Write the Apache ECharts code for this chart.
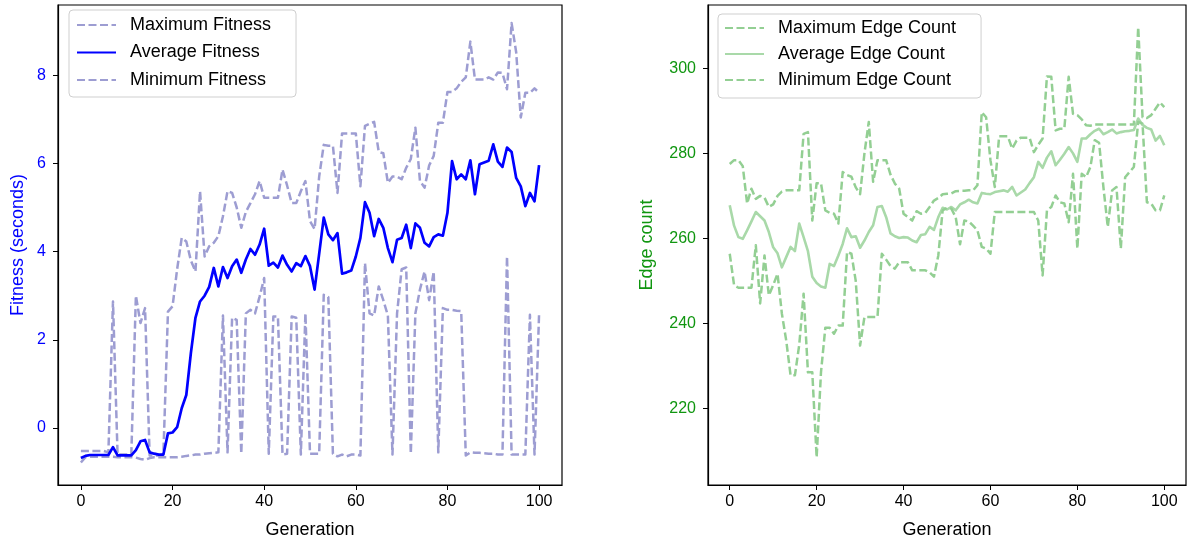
<!DOCTYPE html>
<html>
<head>
<meta charset="utf-8">
<script src="https://cdn.jsdelivr.net/npm/echarts@6/dist/echarts.min.js"></script>
<style>
html,body{margin:0;padding:0;background:#fff;}
#chart{width:1188px;height:546px;}
</style>
</head>
<body>
<div id="chart"></div>
<script>
// ---- data (one value per generation 0..100) ----
const maxFitness = [-0.52,-0.52,-0.52,-0.52,-0.52,-0.52,-0.55,2.87,-0.6,-0.6,
  -0.6,-0.6,3.0,2.38,2.72,-0.62,-0.62,-0.62,-0.6,2.64,
  2.76,3.6,4.31,4.23,3.8,3.55,5.37,3.89,4.12,4.2,
  4.35,4.8,5.37,5.33,5.0,4.54,4.9,5.1,5.3,5.6,
  5.22,5.22,5.22,5.22,5.86,5.5,5.1,5.1,5.37,5.6,
  4.69,4.51,5.7,6.42,6.4,6.4,5.33,6.68,6.68,6.68,
  6.68,5.48,6.85,6.9,6.94,6.26,6.23,5.56,5.7,5.7,
  5.64,5.9,6.1,6.81,5.6,5.45,5.95,6.17,6.92,6.92,
  7.62,7.62,7.7,7.85,7.95,8.76,7.9,7.9,7.9,7.95,
  7.9,8.06,8.05,7.68,9.18,8.52,7.04,7.6,7.6,7.7,
  7.6];
const avgFitness = [-0.68,-0.63,-0.61,-0.61,-0.61,-0.61,-0.61,-0.43,-0.62,-0.62,
  -0.62,-0.62,-0.5,-0.3,-0.27,-0.55,-0.58,-0.6,-0.6,-0.12,
  -0.1,0.02,0.45,0.75,1.7,2.5,2.87,3.0,3.2,3.63,
  3.21,3.65,3.4,3.67,3.82,3.52,3.82,4.06,3.93,4.16,
  4.52,3.68,3.75,3.64,3.91,3.7,3.55,3.74,3.67,3.9,
  3.67,3.14,3.95,4.77,4.39,4.26,4.42,3.5,3.53,3.57,
  3.89,4.31,5.12,4.88,4.35,4.74,4.54,4.08,3.76,4.27,
  4.31,4.61,4.08,4.64,4.54,4.2,4.12,4.33,4.39,4.36,
  4.88,6.05,5.64,5.75,5.64,6.07,5.3,5.98,6.02,6.06,
  6.43,6.04,5.92,6.36,6.26,5.67,5.48,5.03,5.33,5.14,
  5.96];
const minFitness = [-0.78,-0.66,-0.65,-0.65,-0.65,-0.65,-0.65,-0.65,-0.66,-0.66,
  -0.66,-0.66,-0.67,-0.7,-0.72,-0.68,-0.66,-0.66,-0.66,-0.66,
  -0.66,-0.66,-0.65,-0.63,-0.62,-0.6,-0.6,-0.58,-0.57,-0.56,
  -0.55,2.55,-0.55,2.5,2.45,-0.58,2.6,2.68,2.6,2.98,
  3.4,-0.58,2.53,2.53,-0.6,-0.58,2.53,2.5,-0.6,2.6,
  -0.58,-0.58,-0.58,3.02,2.97,-0.58,-0.64,-0.6,-0.64,-0.6,
  -0.6,-0.62,3.74,2.6,2.55,3.21,2.9,2.55,-0.6,2.6,
  3.6,3.64,-0.58,2.6,3.14,3.55,2.9,3.55,-0.55,2.72,
  2.68,2.68,2.66,2.65,-0.62,-0.55,-0.56,-0.56,-0.57,-0.58,
  -0.58,-0.6,-0.6,3.89,-0.6,-0.6,-0.6,-0.6,2.57,-0.6,
  2.6];
const maxEdge = [277.5,278.4,278.4,277,268.2,271.7,269.3,270,269.6,267.4,
  268,270,271,271.3,271.3,271.3,271.3,284.6,285,264.2,
  273,273,266.6,266,265.8,263.5,275.6,274.9,274.5,272,
  270.4,280,287.4,273.3,278.4,278.4,278.4,275,272.9,271.7,
  265.8,265,264.2,266.4,265.8,266,267.4,268.9,269.5,270.4,
  270.5,270.6,271.1,271.2,271.2,271.3,271.3,272.5,289.7,288.5,
  278.4,272.1,284,284,284,281.1,283,283.7,283.7,283.7,
  280.3,282,283.5,298.1,298,285.4,285.8,285.8,298,289.3,
  289,288,286.6,286.5,286.8,286.8,286.8,286.8,286.8,286.8,
  286.8,286.8,286.8,286.8,309.7,288.5,288.3,289,290.5,292,
  290.9];
const avgEdge = [267.8,263,260.3,259.9,261.9,264,266.2,265.2,264.2,261.5,
  257.9,256.5,253.2,255.6,258,257,263.5,260.3,257,251,
  249.5,248.7,248.4,254,253.5,256,258.7,262.4,260.3,260.5,
  257.8,259.5,261.5,263.1,267.4,267.6,265,261.2,260.5,260.1,
  260.3,260.2,259.5,259.1,260.8,261,262.7,262,265,267.2,
  266.8,267.4,266.6,268,268.5,269.1,268.5,268.2,270.7,270.5,
  270.4,270.9,271.1,271.3,271,272.1,270.1,270.8,271.5,273,
  274.4,278,276.6,279,280.5,277.2,278.5,279.9,281.5,280,
  278,283.5,283.5,284.5,285.3,285.8,284.5,285,285.6,284.7,
  285,285.2,285.3,285.5,288.2,286.7,286,285.6,283,284.1,
  281.9];
const minEdge = [256.4,249,248.4,248.4,248.4,248.4,258.4,244.7,256,246.6,
  249,251.7,242.3,236,227.8,227.8,235,247,228.5,228.5,
  208.5,228.5,239,239,237.6,239.5,239.5,256.8,256.4,250,
  234.8,241.5,241.5,241.5,241.5,256.4,255,253.5,252.9,254.4,
  254.4,254.4,252.5,252.5,252.5,252.5,252,251,256,266.6,
  267.2,267,265,258.6,264.2,264,263,261.9,258,257.6,
  256.4,266.2,266.2,266.2,266.2,266.2,266.2,266.2,266.2,266.2,
  266.2,264.2,251.3,266.6,267.4,270.1,268.5,268.2,263.8,275.2,
  257.6,275.2,274.4,276.8,283.1,282.5,272,262.7,271.3,272.1,
  257.6,274.4,275.6,276.8,287.4,287,268.5,268.2,266.6,266.6,
  270.1];
const xTicks = [0, 20, 40, 60, 80, 100];
const fitnessTicks = [0, 2, 4, 6, 8];
const edgeTicks = [220, 240, 260, 280, 300];
const fitnessNames = ['Maximum Fitness', 'Average Fitness', 'Minimum Fitness'];
const edgeNames = ['Maximum Edge Count', 'Average Edge Count', 'Minimum Edge Count'];

// ---- chart ----
const FONT = 'Liberation Sans, Arial, Helvetica, sans-serif';
const toPairs = arr => arr.map((v, i) => [i, v]);
const DASH = [8, 3.5];
const fitLight = '#9d9dd2';
const edgeDash = '#93cf93';
const edgeSolid = '#a9d9a9';

function xAxisDef(gi) {
  return {
    gridIndex: gi, type: 'value', min: -5, max: 105,
    axisLine: {show: true, onZero: false, lineStyle: {color: '#000', width: 1.2}},
    axisTick: {show: true, customValues: xTicks, length: 5, lineStyle: {color: '#000', width: 1}},
    axisLabel: {customValues: xTicks, fontSize: 16, color: '#000', margin: 9, fontFamily: FONT},
    splitLine: {show: false},
    name: 'Generation', nameLocation: 'middle', nameGap: 36,
    nameTextStyle: {fontSize: 18, color: '#000', fontFamily: FONT}
  };
}
function yAxisDef(gi, min, max, ticks, color, name, gap) {
  return {
    gridIndex: gi, type: 'value', min: min, max: max,
    axisLine: {show: true, onZero: false, lineStyle: {color: '#000', width: 1.2}},
    axisTick: {show: true, customValues: ticks, length: 5, lineStyle: {color: '#000', width: 1}},
    axisLabel: {customValues: ticks, fontSize: 16, color: color, margin: 12, fontFamily: FONT},
    splitLine: {show: false},
    name: name, nameLocation: 'middle', nameGap: gap, nameRotate: 90,
    nameTextStyle: {fontSize: 18, color: color, fontFamily: FONT}
  };
}
function lineSeries(name, data, gi, color, width, dashed, z) {
  return {
    name: name, type: 'line', xAxisIndex: gi, yAxisIndex: gi,
    data: toPairs(data), symbol: 'none', showSymbol: false, z: z,
    lineStyle: {color: color, width: width, type: dashed ? DASH : 'solid', join: 'round'},
    itemStyle: {color: color}, animation: false
  };
}
function legendDef(names, left, top, pad, gap) {
  return {
    data: names, orient: 'vertical', left: left, top: top,
    padding: pad, itemGap: gap, itemWidth: 39, itemHeight: 14,
    backgroundColor: 'rgba(255,255,255,0.85)', borderColor: '#cfcfcf', borderWidth: 1, borderRadius: 4,
    itemStyle: {color: 'rgba(0,0,0,0)', borderColor: 'rgba(0,0,0,0)', borderWidth: 0},
    textStyle: {fontSize: 18, color: '#000', fontFamily: FONT, lineHeight: 20, padding: [0, 0, 0, 9]},
    selectedMode: false
  };
}

const chart = echarts.init(document.getElementById('chart'), null, {renderer: 'canvas'});
chart.setOption({
  animation: false,
  backgroundColor: '#fff',
  textStyle: {fontFamily: FONT},
  grid: [
    {left: 58, top: 5, width: 504, height: 480, show: true, borderColor: '#000', borderWidth: 1.2, backgroundColor: 'transparent'},
    {left: 708, top: 5, width: 478, height: 480, show: true, borderColor: '#000', borderWidth: 1.2, backgroundColor: 'transparent'}
  ],
  xAxis: [xAxisDef(0), xAxisDef(1)],
  yAxis: [
    yAxisDef(0, -1.29, 9.59, fitnessTicks, '#0000ff', 'Fitness (seconds)', 31),
    yAxisDef(1, 202, 314.9, edgeTicks, '#109610', 'Edge count', 52)
  ],
  legend: [
    legendDef(fitnessNames, 69, 10, [5, 25, 7, 7], 7.5),
    legendDef(edgeNames, 718, 14, [4, 25, 8, 6], 6)
  ],
  series: [
    lineSeries(fitnessNames[0], maxFitness, 0, fitLight, 2.5, true, 2),
    lineSeries(fitnessNames[1], avgFitness, 0, '#0000ff', 2.7, false, 3),
    lineSeries(fitnessNames[2], minFitness, 0, fitLight, 2.5, true, 2),
    lineSeries(edgeNames[0], maxEdge, 1, edgeDash, 2.5, true, 2),
    lineSeries(edgeNames[1], avgEdge, 1, edgeSolid, 2.6, false, 2),
    lineSeries(edgeNames[2], minEdge, 1, edgeDash, 2.5, true, 2)
  ]
});
</script>
</body>
</html>
